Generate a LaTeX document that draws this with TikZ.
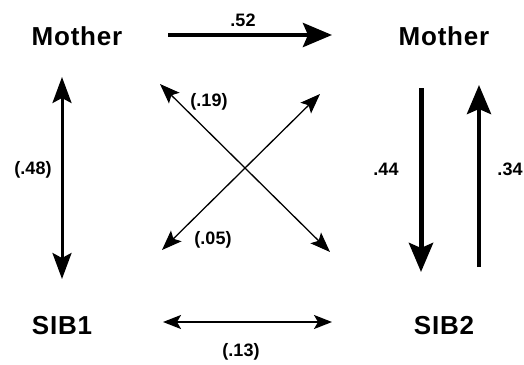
\documentclass[tikz,border=0pt]{standalone}
\usepackage{fontspec}
\setmainfont{Liberation Sans}
\usetikzlibrary{arrows.meta}
\begin{document}
\begin{tikzpicture}[x=1pt,y=-1pt,
  vname/.style={font=\fontsize{26}{30}\selectfont\bfseries\addfontfeatures{LetterSpace=3}, inner sep=0pt},
  coef/.style={font=\fontsize{18}{20}\selectfont\bfseries, inner sep=0pt},
  bigarrow/.style={line width=4.5pt, -{Stealth[length=29pt,width=24pt,inset=5pt]}},
  midarrow/.style={line width=3pt, {Stealth[length=26pt,width=19pt,inset=5pt]}-{Stealth[length=26pt,width=19pt,inset=5pt]}},
  thinarrow/.style={line width=1.3pt, {Stealth[length=20pt,width=15pt,inset=4pt]}-{Stealth[length=20pt,width=15pt,inset=4pt]}},
  lowarrow/.style={line width=1.8pt, {Stealth[length=18pt,width=14pt,inset=4pt]}-{Stealth[length=18pt,width=14pt,inset=4pt]}}
]
\useasboundingbox (0,0) rectangle (524,364);
% variable names
\node[vname] (m1) at (77,36) {Mother};
\node[vname] (m2) at (444,36) {Mother};
\node[vname] (s1) at (62,326) {SIB1};
\node[vname] (s2) at (444,326) {SIB2};
% arrow endpoints
\coordinate (a1) at (168,35);  \coordinate (a2) at (332,35);
\coordinate (b1) at (62,77);   \coordinate (b2) at (62,279);
\coordinate (c1) at (421,88);  \coordinate (c2) at (421,272);
\coordinate (d1) at (479,267); \coordinate (d2) at (479,85);
\coordinate (e1) at (160,84);  \coordinate (e2) at (330,252);
\coordinate (f1) at (162,250); \coordinate (f2) at (320,94);
\coordinate (g1) at (163,322); \coordinate (g2) at (332,322);
% connectors
\draw[bigarrow] (a1) -- (a2);
\draw[midarrow] (b1) -- (b2);
\draw[bigarrow, line width=5pt] (c1) -- (c2);
\draw[bigarrow] (d1) -- (d2);
\draw[thinarrow] (e1) -- (e2);
\draw[thinarrow] (f1) -- (f2);
\draw[lowarrow] (g1) -- (g2);
% coefficients
\node[coef] (l52) at (243,20) {.52};
\node[coef] (l48) at (33,170) {(.48)};
\node[coef] (l44) at (386,169) {.44};
\node[coef] (l34) at (510,169) {.34};
\node[coef] (l19) at (209,102) {(.19)};
\node[coef] (l05) at (213,240) {(.05)};
\node[coef] (l13) at (241,352) {(.13)};
\end{tikzpicture}
\end{document}
